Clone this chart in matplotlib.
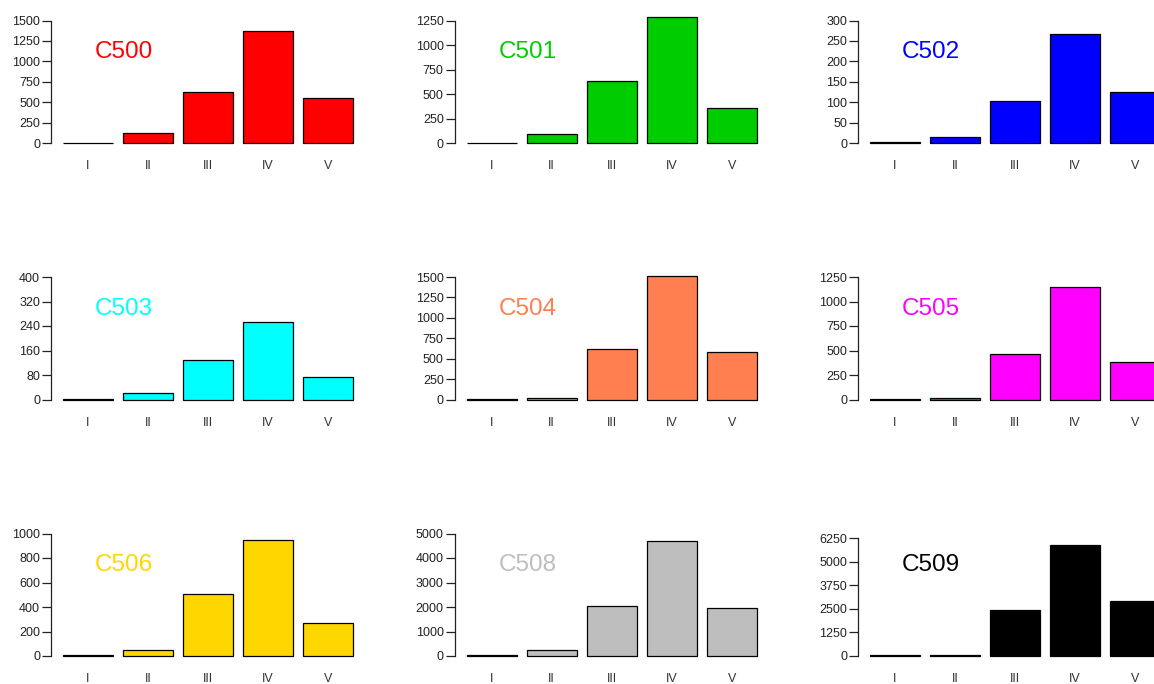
import matplotlib
matplotlib.use("Agg")
import matplotlib.pyplot as plt

plt.rcParams["font.family"] = ["Liberation Sans", "DejaVu Sans"]

# Stage labels shared by every panel
stages = ["I", "II", "III", "IV", "V"]

# Cluster names and fill colours
clusters = ["C500", "C501", "C502", "C503", "C504", "C505", "C506", "C508", "C509"]
fills = ["#FF0000", "#00CD00", "#0000FF", "#00FFFF", "#FF7F50",
         "#FF00FF", "#FFD700", "#BEBEBE", "#000000"]

# Counts per stage for each cluster
c500 = [5, 118, 628, 1370, 546]
c501 = [5, 88, 628, 1290, 361]
c502 = [2, 14, 104, 267, 125]
c503 = [1, 22, 129, 254, 75]
c504 = [3, 20, 616, 1510, 576]
c505 = [5, 20, 463, 1149, 378]
c506 = [5, 49, 503, 945, 273]
c508 = [25, 232, 2049, 4686, 1940]
c509 = [40, 60, 2451, 5896, 2912]
counts = [c500, c501, c502, c503, c504, c505, c506, c508, c509]

# Upper y limit and y-axis tick spacing per panel
y_max = [1500, 1250, 300, 400, 1500, 1250, 1000, 5000, 6500]
tick_step = [250, 250, 50, 80, 250, 250, 200, 1000, 1250]
tick_top = [1500, 1250, 300, 400, 1500, 1250, 1000, 5000, 6250]

# Figure layout (pixels)
W, H = 1154, 684
col_left = [51.4, 455.1, 858.4]
row_zero = [143.0, 399.5, 656.0]
ax_w = 313.2
span = 122.5

fig = plt.figure(figsize=(W / 100, H / 100), dpi=100)

bar_x = [0.7 + 1.2 * i for i in range(len(stages))]

for k, name in enumerate(clusters):
    r, c = divmod(k, 3)
    bottom_px = row_zero[r] + 0.04 * span
    ax_h = 1.08 * span
    ax = fig.add_axes([col_left[c] / W, 1 - bottom_px / H, ax_w / W, ax_h / H])
    top = y_max[k]
    ax.bar(bar_x, counts[k], width=1.0, color=fills[k],
           edgecolor="black", linewidth=0.9)
    ax.set_xlim(-0.032, 6.232)
    ax.set_ylim(-0.04 * top, 1.04 * top)

    ticks = list(range(0, tick_top[k] + 1, tick_step[k]))
    ax.set_yticks(ticks)
    ax.set_yticklabels([str(t) for t in ticks])
    ax.spines["left"].set_bounds(0, tick_top[k])
    for s in ("top", "right", "bottom"):
        ax.spines[s].set_visible(False)
    ax.spines["left"].set_linewidth(0.9)
    ax.spines["left"].set_color("#222222")
    ax.tick_params(axis="y", length=6.2, width=0.9, pad=2, labelsize=9,
                   colors="#222222", direction="out")

    ax.set_xticks(bar_x)
    ax.set_xticklabels(stages)
    ax.tick_params(axis="x", length=0, pad=9, labelsize=9, colors="#333333")

    ax.text(1.42, 0.69 * top, name, color=fills[k], fontsize=17.5,
            ha="center", va="baseline")
    ax.patch.set_visible(False)

fig.savefig("out.png", dpi=100)
